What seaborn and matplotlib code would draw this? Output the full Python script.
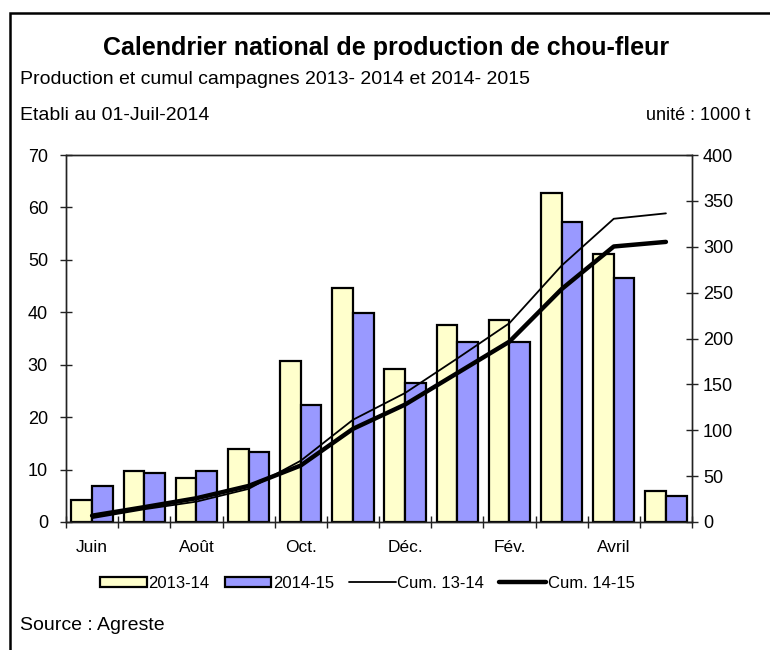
import numpy as np
import pandas as pd
import matplotlib
matplotlib.use("Agg")
import matplotlib.pyplot as plt
import seaborn as sns
from matplotlib.patches import Patch, Rectangle
from matplotlib.lines import Line2D

# données (1000 t)
mois = ["Juin", "Juil.", "Août", "Sept.", "Oct.", "Nov.", "Déc.",
        "Janv.", "Fév.", "Mars", "Avril", "Mai"]
prod_1314 = [4.2, 9.7, 8.3, 13.9, 30.7, 44.6, 29.2, 37.6, 38.5, 62.7, 51.1, 5.9]
prod_1415 = [6.9, 9.3, 9.7, 13.4, 22.3, 39.9, 26.5, 34.3, 34.3, 57.2, 46.5, 5.0]
cum_1314 = [4.2, 13.9, 22.2, 36.1, 66.8, 111.4, 140.6, 178.2, 216.7, 279.4, 330.5, 336.4]
cum_1415 = [6.9, 16.2, 25.9, 39.3, 61.6, 101.5, 128.0, 162.3, 196.6, 253.8, 300.3, 305.3]
xlabels = ["Juin", "", "Août", "", "Oct.", "", "Déc.", "", "Fév.", "", "Avril", ""]

sns.set_theme(style="white")
plt.rcParams["font.family"] = ["Liberation Sans", "DejaVu Sans"]
plt.rcParams.update({"text.color": "black", "axes.labelcolor": "black",
                     "xtick.color": "black", "ytick.color": "black"})

df = pd.DataFrame({
    "mois": mois * 2,
    "valeur": prod_1314 + prod_1415,
    "campagne": ["2013-14"] * 12 + ["2014-15"] * 12,
})

fig = plt.figure(figsize=(7.7, 6.5), dpi=100)
ax = fig.add_axes([66 / 770, 1 - 522 / 650, 626 / 770, 367 / 650])

yellow, blue = "#FFFFCC", "#9999FF"
sns.barplot(data=df, x="mois", y="valeur", hue="campagne", order=mois,
            palette=[yellow, blue], edgecolor="black", linewidth=1.6,
            width=0.79, gap=0, saturation=1, ax=ax, legend=False)

ax2 = ax.twinx()
xs = np.arange(len(mois))
sns.lineplot(x=xs, y=cum_1314, ax=ax2, color="black", linewidth=1.3)
sns.lineplot(x=xs, y=cum_1415, ax=ax2, color="black", linewidth=3.2)

ax.set_xlim(-0.5, 11.5)
ax.set_ylim(0, 70)
ax2.set_ylim(0, 400)
ax.set_yticks(range(0, 71, 10))
ax2.set_yticks(range(0, 401, 50))
ax.set_xticks(np.arange(-0.5, 12, 1))
ax.set_xticklabels([])
ax.set_xticks(xs, minor=True)
ax.set_xticklabels(xlabels, minor=True)
ax.set_xlabel("")
ax.set_ylabel("")
ax2.set_ylabel("")

ax.tick_params(axis="x", which="major", direction="inout", length=8, width=1,
               color="#222222", bottom=True)
ax.tick_params(axis="x", which="minor", length=0, pad=13, labelsize=12.5)
ax.tick_params(axis="y", direction="inout", length=8, width=1, color="#222222",
               left=True, labelsize=13, pad=9)
ax2.tick_params(axis="y", direction="inout", length=8, width=1, color="#222222",
                right=True, labelsize=13, pad=4)
for a in (ax, ax2):
    for s in a.spines.values():
        s.set_color("#222222")
        s.set_linewidth(1)

handles = [
    Patch(facecolor=yellow, edgecolor="black", linewidth=1.6, label="2013-14"),
    Patch(facecolor=blue, edgecolor="black", linewidth=1.6, label="2014-15"),
    Line2D([], [], color="black", linewidth=1.3, label="Cum. 13-14"),
    Line2D([], [], color="black", linewidth=3.2, label="Cum. 14-15"),
]
fig.legend(handles=handles, loc="center", bbox_to_anchor=(0.477, 1 - 583 / 650),
           ncol=4, frameon=False, fontsize=12, handlelength=2.8,
           handleheight=0.55, handletextpad=0.1, columnspacing=0.9)

fig.text(0.502, 1 - 48 / 650, "Calendrier national de production de chou-fleur",
         ha="center", va="center", fontsize=18, fontweight="bold")
fig.text(20 / 770, 1 - 80 / 650, "Production et cumul campagnes 2013- 2014 et 2014- 2015",
         ha="left", va="center", fontsize=14)
fig.text(20 / 770, 1 - 115 / 650, "Etabli au 01-Juil-2014",
         ha="left", va="center", fontsize=14)
fig.text(750 / 770, 1 - 115 / 650, "unité : 1000 t",
         ha="right", va="center", fontsize=13)
fig.text(20 / 770, 1 - 625 / 650, "Source : Agreste",
         ha="left", va="center", fontsize=14)

# cadre
fig.patches.append(Rectangle((10 / 770, -0.1), 1.0, 1 - 13 / 650 + 0.1,
                             transform=fig.transFigure, fill=False,
                             edgecolor="black", linewidth=1.8))

fig.savefig("out.png", dpi=100)
